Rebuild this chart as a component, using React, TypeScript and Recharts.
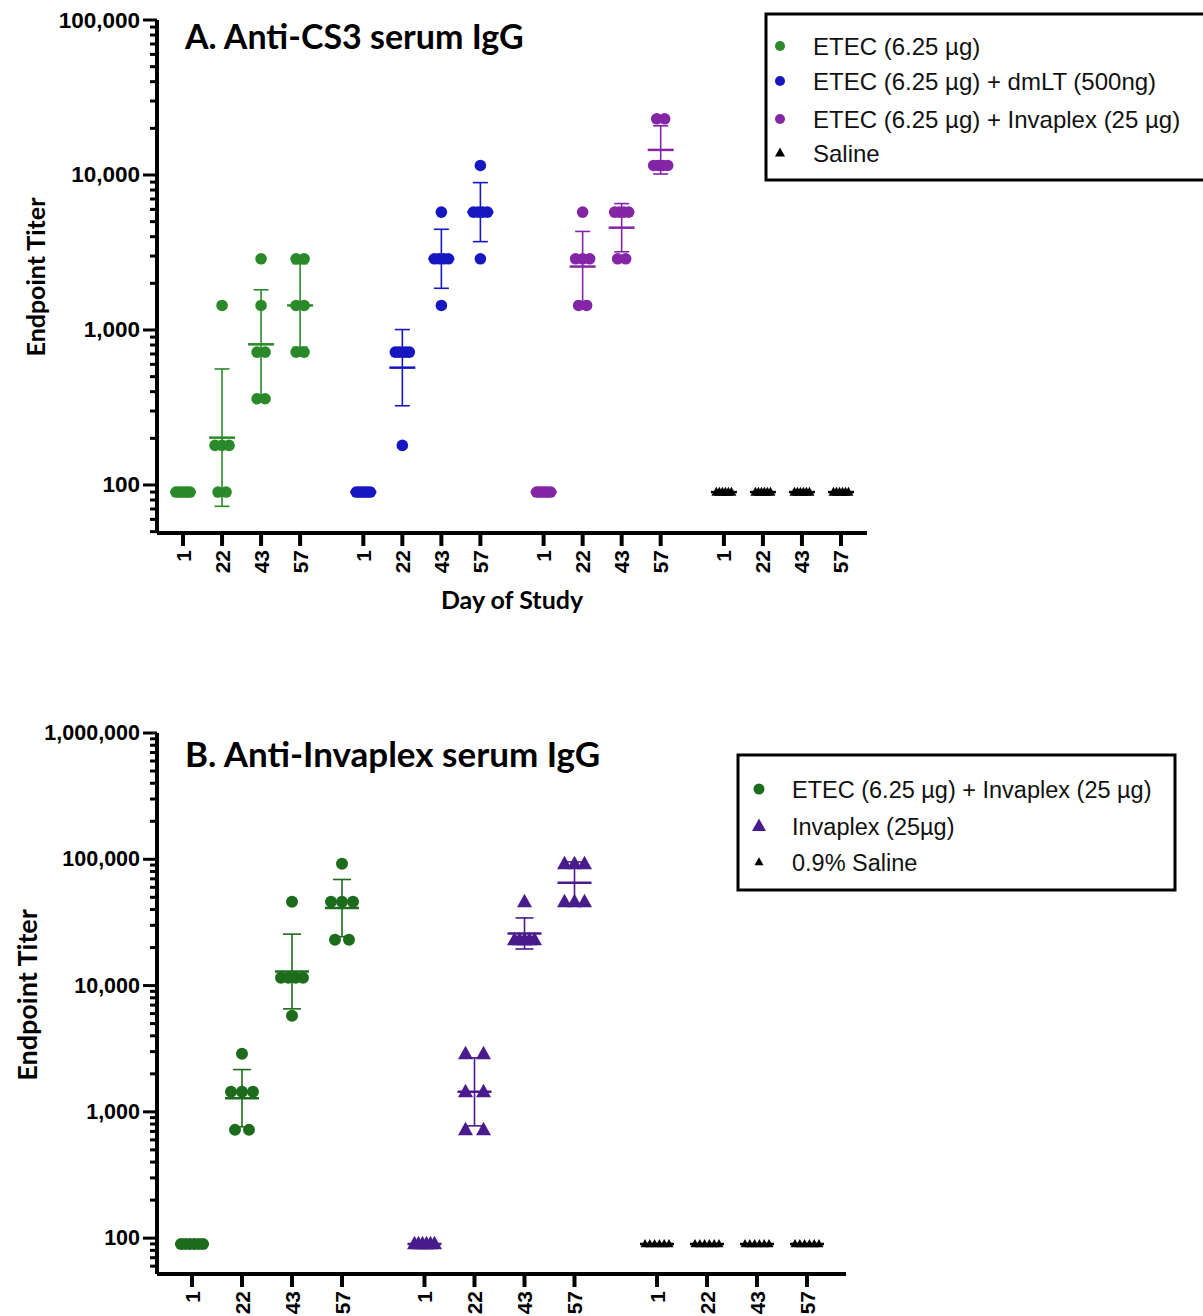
import { ErrorBar, Scatter, ScatterChart, XAxis, YAxis } from 'recharts'

const DAYS = ['1', '22', '43', '57']

// Panel A: anti-CS3 serum IgG endpoint titers, six animals per study day
const A_ETEC = [
  [90, 90, 90, 90, 90, 90],
  [1440, 180, 180, 180, 90, 90],
  [2880, 1440, 720, 720, 360, 360],
  [2880, 2880, 1440, 1440, 720, 720],
]
const A_ETEC_DMLT = [
  [90, 90, 90, 90, 90, 90],
  [720, 720, 720, 720, 720, 180],
  [5760, 2880, 2880, 2880, 2880, 1440],
  [11520, 5760, 5760, 5760, 5760, 2880],
]
const A_ETEC_INVAPLEX = [
  [90, 90, 90, 90, 90, 90],
  [5760, 2880, 2880, 2880, 1440, 1440],
  [5760, 5760, 5760, 5760, 2880, 2880],
  [23040, 23040, 11520, 11520, 11520, 11520],
]
const A_SALINE = [
  [90, 90, 90, 90, 90, 90],
  [90, 90, 90, 90, 90, 90],
  [90, 90, 90, 90, 90, 90],
  [90, 90, 90, 90, 90, 90],
]

// Panel B: anti-Invaplex serum IgG endpoint titers
const B_ETEC_INVAPLEX = [
  [90, 90, 90, 90, 90, 90],
  [2880, 1440, 1440, 1440, 720, 720],
  [46080, 11520, 11520, 11520, 11520, 5760],
  [92160, 46080, 46080, 46080, 23040, 23040],
]
const B_INVAPLEX = [
  [90, 90, 90, 90, 90, 90],
  [2880, 2880, 1440, 1440, 720, 720],
  [46080, 23040, 23040, 23040, 23040, 23040],
  [92160, 92160, 92160, 46080, 46080, 46080],
]
const B_SALINE = [
  [90, 90, 90, 90, 90, 90],
  [90, 90, 90, 90, 90, 90],
  [90, 90, 90, 90, 90, 90],
  [90, 90, 90, 90, 90, 90],
]

const A_LEGEND = [
  'ETEC (6.25 µg)',
  'ETEC (6.25 µg) + dmLT (500ng)',
  'ETEC (6.25 µg) + Invaplex (25 µg)',
  'Saline',
]
const B_LEGEND = ['ETEC (6.25 µg) + Invaplex (25 µg)', 'Invaplex (25µg)', '0.9% Saline']

const GREEN_A = '#2a8a2a'
const BLUE_A = '#1717c2'
const PURPLE_A = '#8424a6'
const GREEN_B = '#1d6b1d'
const PURPLE_B = '#4a1b8c'
const BLACK = '#000000'

const TICK_FONT = '"Liberation Sans", Arial, sans-serif'
const TITLE_FONT = 'Lato, "Liberation Sans", sans-serif'

type Marker = 'circle' | 'triangle'

type SeriesDef = {
  color: string
  marker: Marker
  size: number
  group: number
  days: number[][]
  step: number
  maxSpread: number
}

type PanelDef = {
  top: number
  height: number
  marginTop: number
  marginRight: number
  xAxisHeight: number
  yDomain: [number, number]
  yFont: number
  groupStep: number
  unitPx: number
  xPad: [number, number]
  groups: number
  meanHalf: number
  capHalf: number
  series: SeriesDef[]
}

// GraphPad-style spreading of equal values side by side
function spread(values: number[], center: number, step: number, maxW: number, unit: number) {
  const counts = new Map<number, number>()
  values.forEach((v) => counts.set(v, (counts.get(v) ?? 0) + 1))
  const out: { x: number; y: number }[] = []
  counts.forEach((n, v) => {
    const w = Math.min((n - 1) * step, maxW)
    for (let i = 0; i < n; i++) {
      const off = n === 1 ? 0 : -w / 2 + (w * i) / (n - 1)
      out.push({ x: center + off / unit, y: v })
    }
  })
  return out
}

// geometric mean with geometric SD
function geoSummary(values: number[], center: number) {
  const logs = values.map((v) => Math.log10(v))
  const m = logs.reduce((a, b) => a + b, 0) / logs.length
  const sd = Math.sqrt(logs.reduce((a, l) => a + (l - m) ** 2, 0) / (logs.length - 1))
  const gm = 10 ** m
  return { x: center, y: gm, err: [gm - 10 ** (m - sd), 10 ** (m + sd) - gm] }
}

function logTicks(lo: number, hi: number) {
  const out: number[] = []
  for (let e = Math.floor(Math.log10(lo)); e <= Math.ceil(Math.log10(hi)); e++) {
    for (let k = 1; k <= 9; k++) {
      const v = k * 10 ** e
      if (v >= lo && v <= hi * 1.000001) out.push(v)
    }
  }
  return out
}

const isMajor = (v: number) => Math.abs(Math.log10(v) - Math.round(Math.log10(v))) < 1e-9

function YTick(props: any) {
  const { x, y, payload, fontPx } = props
  const v = payload.value as number
  const major = isMajor(v)
  return (
    <g>
      <line x1={x - (major ? 14 : 7)} x2={x} y1={y} y2={y} stroke="#000" strokeWidth={3} />
      {major ? (
        <text
          x={x - 17}
          y={y}
          textAnchor="end"
          dominantBaseline="central"
          fontFamily={TICK_FONT}
          fontWeight={700}
          fontSize={fontPx}
          fill="#000"
        >
          {v.toLocaleString('en-US')}
        </text>
      ) : null}
    </g>
  )
}

function XTick(props: any) {
  const { x, y, index } = props
  return (
    <g>
      <line x1={x} x2={x} y1={y} y2={y + 13} stroke="#000" strokeWidth={4} />
      <text
        transform={`translate(${x},${y + 17}) rotate(-90)`}
        textAnchor="end"
        dominantBaseline="central"
        fontFamily={TICK_FONT}
        fontWeight={700}
        fontSize={21}
        fill="#000"
      >
        {DAYS[index % 4]}
      </text>
    </g>
  )
}

function markerShape(kind: Marker, size: number, color: string) {
  return (props: any) => {
    const { cx, cy } = props
    if (cx == null || cy == null) return <g />
    if (kind === 'circle') return <circle cx={cx} cy={cy} r={size} fill={color} />
    const h = size * 0.9
    return (
      <polygon
        points={`${cx},${cy - h * 0.6} ${cx - size / 2},${cy + h * 0.4} ${cx + size / 2},${cy + h * 0.4}`}
        fill={color}
      />
    )
  }
}

function meanShape(half: number, color: string) {
  return (props: any) => {
    const { cx, cy } = props
    if (cx == null || cy == null) return <g />
    return <line x1={cx - half} x2={cx + half} y1={cy} y2={cy} stroke={color} strokeWidth={2.5} />
  }
}

const PANEL_A: PanelDef = {
  top: 0,
  height: 620,
  marginTop: 20,
  marginRight: 336,
  xAxisHeight: 87,
  yDomain: [49, 100000],
  yFont: 22.5,
  groupStep: 4.62,
  unitPx: 39,
  xPad: [0.667, 0.667],
  groups: 4,
  meanHalf: 13,
  capHalf: 7.5,
  series: [
    { color: GREEN_A, marker: 'circle', size: 5.8, group: 0, days: A_ETEC, step: 8, maxSpread: 14 },
    { color: BLUE_A, marker: 'circle', size: 5.8, group: 1, days: A_ETEC_DMLT, step: 8, maxSpread: 14 },
    { color: PURPLE_A, marker: 'circle', size: 5.8, group: 2, days: A_ETEC_INVAPLEX, step: 8, maxSpread: 14 },
    { color: BLACK, marker: 'triangle', size: 10, group: 3, days: A_SALINE, step: 4, maxSpread: 15 },
  ],
}

const PANEL_B: PanelDef = {
  top: 700,
  height: 616,
  marginTop: 33,
  marginRight: 357,
  xAxisHeight: 42,
  yDomain: [52, 1000000],
  yFont: 21.5,
  groupStep: 4.65,
  unitPx: 50,
  xPad: [0.7, 0.78],
  groups: 3,
  meanHalf: 17,
  capHalf: 9,
  series: [
    { color: GREEN_B, marker: 'circle', size: 6, group: 0, days: B_ETEC_INVAPLEX, step: 14, maxSpread: 22 },
    { color: PURPLE_B, marker: 'triangle', size: 15, group: 1, days: B_INVAPLEX, step: 18, maxSpread: 20 },
    { color: BLACK, marker: 'triangle', size: 9, group: 2, days: B_SALINE, step: 5, maxSpread: 24 },
  ],
}

function Panel({ p }: { p: PanelDef }) {
  const xTicks: number[] = []
  for (let g = 0; g < p.groups; g++) DAYS.forEach((_, d) => xTicks.push(g * p.groupStep + d))
  const xDomain = [-p.xPad[0], (p.groups - 1) * p.groupStep + 3 + p.xPad[1]]
  const yTicks = logTicks(p.yDomain[0], p.yDomain[1])

  return (
    <div style={{ position: 'absolute', left: 0, top: p.top }}>
      <ScatterChart
        width={1203}
        height={p.height}
        margin={{ top: p.marginTop, right: p.marginRight, bottom: 0, left: 0 }}
      >
        <XAxis
          type="number"
          dataKey="x"
          domain={xDomain}
          ticks={xTicks}
          allowDataOverflow
          interval={0}
          tickLine={false}
          tickSize={0}
          tickMargin={0}
          height={p.xAxisHeight}
          axisLine={{ stroke: '#000', strokeWidth: 4 }}
          tick={<XTick />}
        />
        <YAxis
          type="number"
          dataKey="y"
          scale="log"
          domain={p.yDomain}
          ticks={yTicks}
          allowDataOverflow
          interval={0}
          tickLine={false}
          tickSize={0}
          tickMargin={0}
          width={157}
          axisLine={{ stroke: '#000', strokeWidth: 4 }}
          tick={<YTick fontPx={p.yFont} />}
        />
        {p.series.map((s, i) => (
          <Scatter
            key={`pts-${i}`}
            data={s.days.flatMap((vals, d) =>
              spread(vals, s.group * p.groupStep + d, s.step, s.maxSpread, p.unitPx),
            )}
            shape={markerShape(s.marker, s.size, s.color)}
            isAnimationActive={false}
          />
        ))}
        {p.series.map((s, i) => (
          <Scatter
            key={`mean-${i}`}
            data={s.days.map((vals, d) => geoSummary(vals, s.group * p.groupStep + d))}
            shape={meanShape(p.meanHalf, s.color)}
            isAnimationActive={false}
          >
            <ErrorBar dataKey="err" direction="y" width={p.capHalf} stroke={s.color} strokeWidth={1.6} />
          </Scatter>
        ))}
      </ScatterChart>
    </div>
  )
}

function LegendMarker({ kind, x, y, size, color }: { kind: Marker; x: number; y: number; size: number; color: string }) {
  if (kind === 'circle') return <circle cx={x} cy={y} r={size} fill={color} />
  const h = size * 0.9
  return (
    <polygon
      points={`${x},${y - h * 0.6} ${x - size / 2},${y + h * 0.4} ${x + size / 2},${y + h * 0.4}`}
      fill={color}
    />
  )
}

function Annotations() {
  const aColors = [GREEN_A, BLUE_A, PURPLE_A, BLACK]
  const aKinds: Marker[] = ['circle', 'circle', 'circle', 'triangle']
  const aRows = [46, 81, 119, 153]
  const bColors = [GREEN_B, PURPLE_B, BLACK]
  const bKinds: Marker[] = ['circle', 'triangle', 'triangle']
  const bSizes = [5.5, 14, 9]
  const bRows = [789, 826, 862]
  return (
    <svg
      width={1203}
      height={1316}
      style={{ position: 'absolute', left: 0, top: 0, pointerEvents: 'none' }}
    >
      <text x={185} y={49} fontFamily={TITLE_FONT} fontWeight={700} fontSize={34} fill="#000">
        A. Anti-CS3 serum IgG
      </text>
      <text x={185} y={767} fontFamily={TITLE_FONT} fontWeight={700} fontSize={35} fill="#000">
        B. Anti-Invaplex serum IgG
      </text>
      <text
        transform="translate(35,277) rotate(-90)"
        textAnchor="middle"
        dominantBaseline="central"
        fontFamily={TITLE_FONT}
        fontWeight={700}
        fontSize={25}
        fill="#000"
      >
        Endpoint Titer
      </text>
      <text
        transform="translate(26,995) rotate(-90)"
        textAnchor="middle"
        dominantBaseline="central"
        fontFamily={TITLE_FONT}
        fontWeight={700}
        fontSize={27}
        fill="#000"
      >
        Endpoint Titer
      </text>
      <text x={512} y={609} textAnchor="middle" fontFamily={TITLE_FONT} fontWeight={700} fontSize={25} fill="#000">
        Day of Study
      </text>

      <rect x={766} y={14} width={460} height={166} fill="#fff" stroke="#000" strokeWidth={3} />
      {A_LEGEND.map((label, i) => (
        <g key={label}>
          <LegendMarker kind={aKinds[i]} x={780} y={aRows[i]} size={aKinds[i] === 'circle' ? 5 : 10} color={aColors[i]} />
          <text x={813} y={aRows[i] + 8.5} fontFamily={TICK_FONT} fontSize={24} fill="#111">
            {label}
          </text>
        </g>
      ))}

      <rect x={738} y={755} width={437} height={135} fill="#fff" stroke="#000" strokeWidth={3} />
      {B_LEGEND.map((label, i) => (
        <g key={label}>
          <LegendMarker kind={bKinds[i]} x={759} y={bRows[i]} size={bSizes[i]} color={bColors[i]} />
          <text x={792} y={bRows[i] + 8.5} fontFamily={TICK_FONT} fontSize={23.5} fill="#111">
            {label}
          </text>
        </g>
      ))}
    </svg>
  )
}

export default function App() {
  return (
    <div
      style={{
        position: 'absolute',
        left: 0,
        top: 0,
        width: 1203,
        height: 1316,
        overflow: 'hidden',
        background: '#fff',
      }}
    >
      <Panel p={PANEL_A} />
      <Panel p={PANEL_B} />
      <Annotations />
    </div>
  )
}
